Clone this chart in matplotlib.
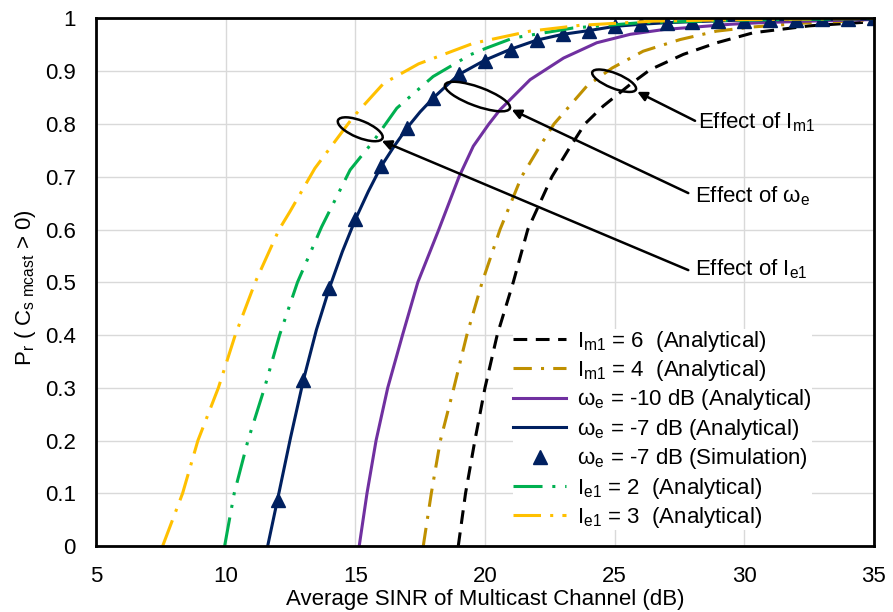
import matplotlib
matplotlib.use("Agg")
import matplotlib.pyplot as plt
from matplotlib.patches import Ellipse
from matplotlib.transforms import ScaledTranslation

plt.rcParams['font.family'] = ['Liberation Sans', 'DejaVu Sans']
plt.rcParams['mathtext.fontset'] = 'custom'
plt.rcParams['mathtext.rm'] = 'Liberation Sans'
plt.rcParams['mathtext.it'] = 'Liberation Sans:italic'
plt.rcParams['mathtext.bf'] = 'Liberation Sans:bold'

# Curves (SINR in dB, probability)
im6_x = [18.97, 19.25, 19.61, 20.0, 20.47, 21.09, 21.65, 22.58, 23.2, 23.85, 24.56, 25.6, 26.37, 27.65, 28.94, 30.35,
         32.5, 35.0]
im6_y = [0.0, 0.1, 0.2, 0.3, 0.4, 0.5, 0.6, 0.7, 0.75, 0.8, 0.834, 0.875, 0.903, 0.932, 0.954, 0.973, 0.986, 0.994]

im4_x = [17.62, 17.93, 18.28, 18.8, 19.3, 19.89, 20.58, 21.41, 22.12, 22.66, 23.93, 24.9, 26.1, 27.52, 28.93, 30.35,
         32.5, 35.0]
im4_y = [0.0, 0.1, 0.2, 0.3, 0.4, 0.5, 0.6, 0.7, 0.758, 0.8, 0.872, 0.906, 0.938, 0.96, 0.976, 0.984, 0.992, 0.997]

w10_x = [15.15, 15.45, 15.8, 16.25, 16.82, 17.41, 18.22, 19.0, 19.55, 20.15, 20.58, 21.74, 23.03, 24.31, 25.6, 26.88,
         28.17, 29.45, 30.6, 32.5, 35.0]
w10_y = [0.0, 0.1, 0.2, 0.3, 0.4, 0.5, 0.6, 0.7, 0.758, 0.8, 0.827, 0.884, 0.925, 0.954, 0.97, 0.979, 0.984, 0.989,
         0.992, 0.995, 0.998]

w7_x = [11.62, 12.0, 12.5, 13.0, 13.5, 14.0, 14.5, 15.0, 15.5, 16.0, 16.5, 17.0, 17.5, 18.0, 18.5, 19.0, 20.0, 21.0,
        22.0, 23.0, 24.0, 25.0, 26.0, 27.0, 28.0, 30.0, 32.0, 35.0]
w7_y = [0.0, 0.088, 0.205, 0.315, 0.41, 0.489, 0.558, 0.619, 0.672, 0.72, 0.758, 0.793, 0.823, 0.849, 0.872, 0.894,
        0.921, 0.942, 0.959, 0.97, 0.977, 0.985, 0.989, 0.992, 0.994, 0.997, 0.998, 0.999]

sim_x = [12, 13, 14, 15, 16, 17, 18, 19, 20, 21, 22, 23, 24, 25, 26, 27, 28, 29, 30, 31, 32, 33, 34, 35]
sim_y = [0.088, 0.315, 0.489, 0.619, 0.72, 0.793, 0.849, 0.894, 0.92, 0.941, 0.959, 0.97, 0.977, 0.985, 0.989,
         0.992, 0.993, 0.995, 0.996, 0.997, 0.998, 0.999, 0.999, 1.0]

ie2_x = [9.96, 10.33, 10.86, 11.5, 12.08, 12.77, 13.7, 14.8, 15.69, 16.6, 18.0, 19.42, 20.06, 21.09, 23.4, 26.0,
         30.0, 35.0]
ie2_y = [0.0, 0.1, 0.2, 0.3, 0.4, 0.5, 0.605, 0.713, 0.767, 0.83, 0.89, 0.931, 0.944, 0.963, 0.982, 0.992, 0.997, 1.0]

ie3_x = [7.57, 8.34, 8.93, 9.72, 10.37, 11.14, 12.06, 12.48, 13.44, 14.93, 16.09, 17.44, 19.55, 21.74, 23.66, 26.5,
         30.0, 35.0]
ie3_y = [0.0, 0.1, 0.2, 0.3, 0.4, 0.5, 0.6, 0.634, 0.716, 0.814, 0.877, 0.914, 0.953, 0.976, 0.987, 0.995, 0.998, 1.0]

labels = [r'I$_\mathrm{m1}$ = 6  (Analytical)',
          r'I$_\mathrm{m1}$ = 4  (Analytical)',
          r'ω$_\mathrm{e}$ = -10 dB (Analytical)',
          r'ω$_\mathrm{e}$ = -7 dB (Analytical)',
          r'ω$_\mathrm{e}$ = -7 dB (Simulation)',
          r'I$_\mathrm{e1}$ = 2  (Analytical)',
          r'I$_\mathrm{e1}$ = 3  (Analytical)']

black = 'black'
gold = '#BF9000'
purple = '#7030A0'
navy = '#002060'
green = '#00B050'
yellow = '#FFC000'

fig = plt.figure(figsize=(8.93, 6.12), dpi=100)
ax = fig.add_axes([0.1075, 0.1078, 0.8712, 0.862])

lw = 2.2
ax.plot(im6_x, im6_y, color=black, lw=lw, linestyle=(0, (4.5, 2.8)), label=labels[0])
ax.plot(im4_x, im4_y, color=gold, lw=lw, linestyle=(0, (6, 3, 1, 3)), label=labels[1])
ax.plot(w10_x, w10_y, color=purple, lw=lw, label=labels[2])
ax.plot(w7_x, w7_y, color=navy, lw=lw, label=labels[3])
ax.plot(sim_x, sim_y, color=navy, lw=0, marker='^', ms=10, label=labels[4])
ax.plot(ie2_x, ie2_y, color=green, lw=lw, linestyle=(0, (9.5, 3.2, 1, 3.2, 1, 3.2)), label=labels[5])
ax.plot(ie3_x, ie3_y, color=yellow, lw=lw, linestyle=(0, (9, 3, 1, 3)), label=labels[6])

ax.set_xlim(5, 35)
ax.set_ylim(0, 1)
ax.set_xticks([5, 10, 15, 20, 25, 30, 35])
ax.set_yticks([0, 0.1, 0.2, 0.3, 0.4, 0.5, 0.6, 0.7, 0.8, 0.9, 1])
ax.set_yticklabels(['0', '0.1', '0.2', '0.3', '0.4', '0.5', '0.6', '0.7', '0.8', '0.9', '1'])
ax.tick_params(length=0, labelsize=16, pad=14.5)
ax.grid(color='#D9D9D9', lw=1)
ax.set_axisbelow(True)
for s in ax.spines.values():
    s.set_linewidth(2)

ax.set_xlabel('Average SINR of Multicast Channel (dB)', fontsize=16, labelpad=1)
ax.set_ylabel(r'P$_\mathrm{r}$ ( C$_\mathrm{s\ mcast}$ > 0)', fontsize=16)
ax.yaxis.set_label_coords(-0.075, 0.49)

leg = ax.legend(loc='center left', bbox_to_anchor=(0.536, 0.221), fontsize=16, frameon=True,
                edgecolor='none', facecolor='white', framealpha=1, borderpad=0, borderaxespad=0,
                handlelength=2.4, handletextpad=0.5, labelspacing=0.2, fancybox=False)


# ellipses marking the groups of curves, size in pixels
def ring(xc, yc, w, h, ang):
    tr = fig.dpi_scale_trans + ScaledTranslation(xc, yc, ax.transData)
    ax.add_patch(Ellipse((0, 0), w / 100, h / 100, angle=ang, transform=tr,
                         fill=False, ec='black', lw=1.8, zorder=5))


ring(24.98, 0.882, 47, 15, -22)
ring(19.71, 0.852, 69, 19, -20)
ring(15.19, 0.790, 48, 17, -22)

arrows = [((25.87, 0.861), (28.10, 0.806)),
          ((21.03, 0.827), (27.84, 0.669)),
          ((16.02, 0.768), (27.84, 0.523))]
for tip, start in arrows:
    ax.annotate('', xy=tip, xytext=start,
                arrowprops=dict(arrowstyle='-|>', color='black', lw=1.8, mutation_scale=14,
                                shrinkA=0, shrinkB=0), zorder=6)

ax.text(28.22, 0.804, r'Effect of I$_\mathrm{m1}$', fontsize=16, va='center', ha='left')
ax.text(28.10, 0.664, r'Effect of ω$_\mathrm{e}$', fontsize=16, va='center', ha='left')
ax.text(28.10, 0.525, r'Effect of I$_\mathrm{e1}$', fontsize=16, va='center', ha='left')

plt.savefig('out.png', dpi=100)
